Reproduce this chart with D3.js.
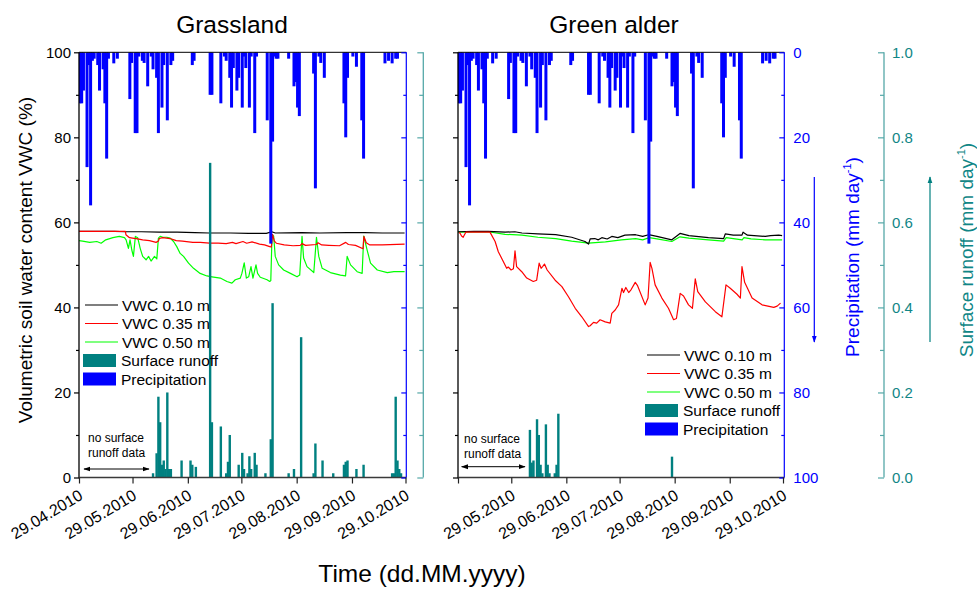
<!DOCTYPE html>
<html>
<head>
<meta charset="utf-8">
<script src="https://cdn.jsdelivr.net/npm/d3@7"></script>
<style>
  body { margin: 0; background: #fff; }
  svg { font-family: "Liberation Sans", Arial, sans-serif; display: block; }
</style>
</head>
<body>
<svg id="chart" width="977" height="589"></svg>
<script>
// ---- data -------------------------------------------------------------
// days are counted from 29.04.2010
const panelTitles = ["Grassland", "Green alder"];
const monthTickLabels = ["29.04.2010", "29.05.2010", "29.06.2010", "29.07.2010",
                         "29.08.2010", "29.09.2010", "29.10.2010"];
const vwcTicks = [0, 20, 40, 60, 80, 100];
const precipTicks = [0, 20, 40, 60, 80, 100];
const runoffTicks = [0, 0.2, 0.4, 0.6, 0.8, 1.0];

// daily precipitation (mm day-1): [day, value]
const precipitation = [[0,12],[1,12],[2,9],[4,27],[5,3],[6,36],[7,2],[8,1.5],[10,3],[11,9],
  [13,4],[14,12],[15,25],[16,1.5],[19,2.6],[21,1.5],[28,11],[29,2.5],[31,19],[32,19],[33,1],
  [35,2],[36,2.5],[38,8],[40,1],[41,4],[43,6],[44,19],[46,13],[47,3],[49,16],[51,3],[52,2],
  [63,3],[64,2],[73,10],[74,10],[79,12],[81,1],[82,2],[84,6],[85,13],[86,3.7],[88,9],[89,6],
  [91,13],[92,1],[93,3.7],[95,13],[96,1],[98,19],[99,1],[105,16],[107,45],[108,21],[109,1],
  [110,1.5],[111,1.5],[117,1.5],[120,8],[121,7],[122,13],[123,15],[131,5],[132,32],[134,1],
  [135,2.5],[137,6],[148,12],[149,20],[150,6],[153,1],[155,3.4],[158,16],[159,25],[171,2.6],
  [173,2],[175,2.6],[177,1.5],[178,1.5]];

// surface runoff (mm day-1): [day, value]
const grassRunoff = [[41,0.01],[43,0.057],[44,0.19],[45,0.13],[46,0.03],[47,0.04],[48,0.02],
  [49,0.2],[50,0.02],[51,0.02],[57,0.04],[62,0.04],[63,0.03],[65,0.025],[73,0.74],[74,0.13],
  [79,0.12],[82,0.01],[83,0.037],[84,0.1],[89,0.03],[91,0.058],[92,0.02],[94,0.01],[95,0.05],
  [96,0.02],[98,0.058],[99,0.03],[104,0.01],[107,0.09],[108,0.41],[117,0.01],[120,0.02],
  [124,0.33],[131,0.01],[132,0.08],[136,0.04],[142,0.01],[148,0.03],[149,0.037],[150,0.04],
  [155,0.02],[159,0.03],[175,0.01],[176,0.01],[177,0.19],[178,0.04],[179,0.02],[180,0.01]];
const alderRunoff = [[40,0.112],[41,0.035],[42,0.04],[44,0.137],[45,0.1],[46,0.03],[47,0.01],
  [49,0.125],[50,0.03],[51,0.01],[54,0.01],[55,0.03],[56,0.15],[120,0.049]];

// volumetric soil water content (%): [day, value]
const grassVwc10 = [[0,57.9],[10,57.9],[20,57.9],[26,57.8],[35,57.8],[45,57.7],[55,57.7],
  [65,57.6],[73,57.5],[85,57.5],[95,57.4],[105,57.4],[108,57.8],[110,57.5],[125,57.6],
  [135,57.5],[150,57.6],[160,57.6],[170,57.5],[182.5,57.5]];
const grassVwc35 = [[0,57.9],[26,57.9],[26.3,57.1],[28.3,56.4],[30,56.3],[32,56.2],[35.7,55.9],
  [39.5,55.7],[43.2,55.3],[44.5,55.6],[45,56.2],[47,56.4],[49,56.3],[51,56.2],[54.5,55.7],
  [58,55.6],[63.8,55.3],[68,55.3],[73.2,55.1],[78,55.1],[82.5,55.0],[86,55.3],[88,55.0],
  [91.9,55.5],[94,55.1],[97,55.4],[101.2,54.9],[104,54.7],[106.9,54.3],[107.8,54.2],
  [108.5,57.2],[109.5,55.6],[110.6,55.1],[115,54.7],[120,54.5],[124,54.6],[125,55.0],
  [127,54.6],[133,54.8],[134,55.2],[136,54.7],[140,54.6],[146,54.5],[149.5,55.3],[151,54.8],
  [155,54.6],[159.2,53.8],[159.7,56.7],[161,55.2],[163,54.7],[170,54.7],[182.5,54.9]];
const grassVwc50 = [[0,55.7],[2,55.6],[6,55.3],[10,55.5],[12.4,55.1],[15,55.9],[19,56.4],
  [22.6,56.7],[25.5,56.4],[26.4,55.9],[27.7,53.9],[28.6,55.9],[29.6,53.5],[30.5,52],
  [31.6,56.7],[32.9,56.4],[34.3,53.9],[35.7,52],[37.6,51.2],[39,52],[40.4,50.9],[42.3,52],
  [43.6,51.4],[44.5,56.3],[45.5,56.7],[47,56.5],[49.2,56.5],[51.1,56.3],[53,55.5],[54.8,54.3],
  [56.7,52.7],[58.6,52],[61.4,50.4],[64.2,49.2],[67.9,48],[71.7,47.4],[74.5,47.2],[79.2,46.9],
  [82.9,46.1],[85.7,45.7],[87.6,46.5],[90.4,46.9],[91.3,48],[92.6,50.5],[93.8,46.9],
  [95.1,47.2],[96.4,49.6],[97.5,46.9],[99.2,50],[100.1,48],[101.6,47.1],[105.4,46.5],
  [106.9,46.1],[107.5,46.3],[108.2,57.1],[109.1,56.8],[110,52],[111.9,50],[114.7,48.8],
  [118.5,48],[122.2,47.2],[123.7,47.6],[125,56.7],[125.9,51.6],[127.8,49.6],[131.6,48.2],
  [133.1,56.5],[134.4,52],[136.3,49.2],[140.9,48.2],[146.5,47.6],[149.4,47.4],[150.3,52],
  [152.2,50],[155.9,48.4],[158.7,48],[159.6,56.8],[161.5,53.5],[163.4,50.4],[167.2,48.8],
  [172.8,48.2],[176.5,48.4],[182.5,48.4]];

const alderVwc10 = [[0,57.8],[9,57.9],[17,57.9],[26.5,57.7],[32,57.8],[36,57.5],[45,57.3],
  [55,57.1],[64,56.5],[71.5,55.5],[73.5,54.9],[74.4,56.1],[77,56.2],[79,55.9],[81,56.4],
  [84,56.1],[86.6,56.7],[90,56.4],[94,57],[100,57.1],[104,56.7],[107.3,57.1],[112,56.7],
  [120.4,55.9],[125,57.4],[130,56.9],[141,56.4],[149.6,56.2],[150.5,57.3],[155,57],
  [159.9,57],[160.5,57.7],[163,57],[173,56.7],[176,56.9],[180.6,57],[182.5,56.9]];
const alderVwc35 = [[0.5,57.6],[1.1,57.5],[2,56.8],[2.9,56.5],[4.4,57.7],[18,57.7],[20.9,55.5],
  [22.7,53.1],[25.5,50.8],[27.4,49.2],[28.3,49.5],[29.9,48.8],[31.2,49.1],[32.1,53.3],[33,49.6],
  [35.9,48.4],[38.7,46.9],[42.4,46.1],[44.3,46.4],[45.7,50.4],[46.8,49.2],[47.6,49.6],
  [48.7,50.2],[50.2,48.8],[54.7,46.4],[58.5,44.9],[62.2,42.5],[66,39.8],[69.7,37.8],
  [73.5,35.5],[74.4,35.7],[76.3,36.5],[78.1,36.3],[80,37.1],[82.9,36.6],[85.7,36.3],
  [86.6,38.6],[88.5,39.4],[90.4,40.6],[92.3,44.5],[93.2,43.5],[94.5,44.7],[96.1,43.5],
  [97.5,44.2],[99.8,45.9],[101,45.2],[105.4,40.6],[107,42.2],[108.2,50.6],[109.2,49.2],
  [111,45.3],[114.8,42.2],[118.5,39.8],[121.4,37.1],[123,37.4],[125.1,43.3],[127,42.7],
  [129.8,40.6],[132,39.8],[133.6,46.7],[135,43.7],[139.3,41.3],[144.9,39],[148.6,37.8],
  [150.9,45.3],[153.3,44.5],[157.1,43.1],[159,42.2],[159.9,49.6],[161.4,45.9],[165.6,42.2],
  [171.2,40.6],[177.8,40],[179.7,40.3],[181.6,41]];
const alderVwc50 = [[0,57.7],[17,57.8],[26.5,57.2],[36,57],[45,56.5],[55,56.2],[64,55.6],
  [73.5,55.1],[83,55.4],[92,55.9],[100,56.2],[104,55.9],[107.7,56.4],[112,56.1],[120.4,55.5],
  [125,56.6],[130,56.3],[141,55.9],[149.6,55.6],[151,56.4],[160,55.9],[161,56.4],[165,56.1],
  [173,55.9],[182.5,55.9]];

const legendLabels = ["VWC 0.10 m", "VWC 0.35 m", "VWC 0.50 m", "Surface runoff", "Precipitation"];

// ---- drawing ------------------------------------------------------------
const DAY = 86400000;
const t0 = Date.UTC(2010, 3, 29);
const dayDate = d => new Date(t0 + d * DAY);
const tickDates = monthTickLabels.map(s => {
  const [dd, mm, yy] = s.split(".").map(Number);
  return new Date(Date.UTC(yy, mm - 1, dd));
});

const C = {
  black: "#000", red: "#ff0000", green: "#00ff00", blue: "#0000ff",
  teal: "#008080", tealAxis: "#55a8a8", tealText: "#108686"
};
const yTop = 52.3, yBot = 477.5;

const svg = d3.select("#chart");
const defs = svg.append("defs");

function marker(id, color, orient) {
  defs.append("marker").attr("id", id).attr("viewBox", "0 0 10 10")
    .attr("refX", 9).attr("refY", 5).attr("markerWidth", 7).attr("markerHeight", 7)
    .attr("markerUnits", "userSpaceOnUse").attr("orient", orient)
    .append("path").attr("d", "M0,1.5 L10,5 L0,8.5 Z").attr("fill", color);
}
marker("headBlack", "#000", "auto-start-reverse");
marker("headBlue", C.blue, "auto");
marker("headTeal", C.teal, "auto");

const yV = d3.scaleLinear().domain([0, 100]).range([yBot, yTop]);
const yP = d3.scaleLinear().domain([0, 100]).range([yTop, yBot]);
const yR = d3.scaleLinear().domain([0, 1]).range([yBot, yTop]);

const panels = [
  { title: panelTitles[0], x0: 79, x1: 405.5, xBlue: 406.3, xTeal: 423.3, leftLabels: true,
    rightLabels: false, runoff: grassRunoff, v10: grassVwc10, v35: grassVwc35, v50: grassVwc50,
    legendX: 83, legendY: 305, noteX: 88, noteY: 442, arrowX: [84, 149], arrowY: 469,
    tickLabelFrom: 0, titleX: 232 },
  { title: panelTitles[1], x0: 458, x1: 783, xBlue: 784.3, xTeal: 884, leftLabels: false,
    rightLabels: true, runoff: alderRunoff, v10: alderVwc10, v35: alderVwc35, v50: alderVwc50,
    legendX: 645, legendY: 355, noteX: 464, noteY: 443, arrowX: [461.7, 525], arrowY: 466.7,
    tickLabelFrom: 1, titleX: 614 }
];

panels.forEach((p, i) => {
  const x = d3.scaleUtc().domain([tickDates[0], tickDates[tickDates.length - 1]])
    .range([p.x0, p.x1]);
  const g = svg.append("g");
  const clipId = "clip" + i;
  defs.append("clipPath").attr("id", clipId).append("rect")
    .attr("x", p.x0).attr("y", yTop).attr("width", p.xBlue - p.x0).attr("height", yBot - yTop);
  const plot = g.append("g").attr("clip-path", `url(#${clipId})`);

  // soil water content lines
  const line = d3.line().x(d => x(dayDate(d[0]))).y(d => yV(d[1]));
  [[p.v50, C.green], [p.v10, C.black], [p.v35, C.red]].forEach(([data, col]) => {
    plot.append("path").datum(data).attr("d", line).attr("fill", "none")
      .attr("stroke", col).attr("stroke-width", 1.2).attr("stroke-linejoin", "round");
  });

  // surface runoff bars (up from the bottom)
  const rw = 2.4;
  plot.append("g").selectAll("rect").data(p.runoff).join("rect")
    .attr("x", d => x(dayDate(d[0] + 0.5)) - rw / 2)
    .attr("width", rw)
    .attr("y", d => yR(d[1]))
    .attr("height", d => yBot - yR(d[1]))
    .attr("fill", C.teal);

  // precipitation bars (down from the top)
  const pw = 3.0;
  plot.append("g").selectAll("rect").data(precipitation).join("rect")
    .attr("x", d => x(dayDate(d[0] + 0.5)) - pw / 2)
    .attr("width", pw)
    .attr("y", yTop)
    .attr("height", d => yP(d[1]) - yTop)
    .attr("fill", C.blue);

  // frame lines
  g.append("line").attr("x1", p.x0).attr("x2", p.xBlue).attr("y1", yTop).attr("y2", yTop)
    .attr("stroke", "#000").attr("stroke-width", 1);
  g.append("line").attr("x1", p.xBlue).attr("x2", p.xBlue).attr("y1", yTop).attr("y2", yBot)
    .attr("stroke", C.blue).attr("stroke-width", 1.2);
  g.append("line").attr("x1", p.x0).attr("x2", p.x0).attr("y1", yTop).attr("y2", yBot + 0.7)
    .attr("stroke", "#000").attr("stroke-width", 1.3);
  g.append("line").attr("x1", p.x0).attr("x2", p.xBlue).attr("y1", yBot).attr("y2", yBot)
    .attr("stroke", "#3a3a3a").attr("stroke-width", 1.6);
  g.append("line").attr("x1", p.xTeal).attr("x2", p.xTeal).attr("y1", yTop).attr("y2", yBot)
    .attr("stroke", C.tealAxis).attr("stroke-width", 1.3);

  // left VWC axis
  const leftAx = g.append("g").attr("transform", `translate(${p.x0},0)`)
    .call(d3.axisLeft(yV).tickValues(vwcTicks).tickSize(5).tickPadding(3)
      .tickFormat(p.leftLabels ? d3.format("d") : () => ""));
  const leftMinor = g.append("g").attr("transform", `translate(${p.x0},0)`)
    .call(d3.axisLeft(yV).tickValues([10, 30, 50, 70, 90]).tickSize(3).tickFormat(() => ""));

  // precipitation axis (ticks inside)
  const blueAx = g.append("g").attr("transform", `translate(${p.xBlue},0)`)
    .call(d3.axisLeft(yP).tickValues(precipTicks).tickSize(5).tickFormat(() => ""));
  const blueMinor = g.append("g").attr("transform", `translate(${p.xBlue},0)`)
    .call(d3.axisLeft(yP).tickValues([10, 30, 50, 70, 90]).tickSize(3).tickFormat(() => ""));
  if (p.rightLabels) {
    g.append("g").attr("transform", `translate(${p.xBlue},0)`)
      .call(d3.axisRight(yP).tickValues(precipTicks).tickSize(0).tickPadding(9)
        .tickFormat(d3.format("d")))
      .call(a => a.selectAll("text").attr("fill", C.blue));
  }

  // runoff axis
  const tealAx = g.append("g").attr("transform", `translate(${p.xTeal},0)`)
    .call(d3.axisLeft(yR).tickValues(runoffTicks).tickSize(6).tickFormat(() => ""));
  const tealMinor = g.append("g").attr("transform", `translate(${p.xTeal},0)`)
    .call(d3.axisLeft(yR).tickValues([0.1, 0.3, 0.5, 0.7, 0.9]).tickSize(4).tickFormat(() => ""));
  if (p.rightLabels) {
    g.append("g").attr("transform", `translate(${p.xTeal},0)`)
      .call(d3.axisRight(yR).tickValues(runoffTicks).tickSize(0).tickPadding(8)
        .tickFormat(d3.format(".1f")))
      .call(a => a.selectAll("text").attr("fill", C.tealText));
  }

  [leftAx, leftMinor].forEach(a => a.selectAll("line").attr("stroke", "#000").attr("stroke-width", 1.2));
  [blueAx, blueMinor].forEach(a => a.selectAll("line").attr("stroke", C.blue).attr("stroke-width", 1.2));
  [tealAx, tealMinor].forEach(a => a.selectAll("line").attr("stroke", C.tealAxis).attr("stroke-width", 1.2));

  // bottom time axis
  const bottom = g.append("g").attr("transform", `translate(0,${yBot})`)
    .call(d3.axisBottom(x).tickValues(tickDates).tickSize(6).tickFormat(() => ""));
  bottom.selectAll("line").attr("stroke", "#222").attr("stroke-width", 1.2);
  g.selectAll(".domain").remove();

  g.append("g").selectAll("text").data(tickDates.slice(p.tickLabelFrom)).join("text")
    .attr("transform", d => `translate(${x(d) + 5},${yBot + 21}) rotate(-31)`)
    .attr("text-anchor", "end")
    .attr("font-size", 16)
    .attr("fill", "#000")
    .text(d => monthTickLabels[tickDates.indexOf(d)]);

  g.selectAll(".tick text").attr("font-size", 15).attr("font-family", "Liberation Sans, Arial, sans-serif");

  // panel title
  g.append("text").attr("x", p.titleX).attr("y", 33).attr("text-anchor", "middle")
    .attr("font-size", 24.5).text(p.title);

  // legend
  const lg = g.append("g").attr("font-size", 15.5);
  const lineCols = [C.black, C.red, C.green];
  const rowH = 18.5;
  lineCols.forEach((col, k) => {
    const yy = p.legendY + k * rowH;
    lg.append("line").attr("x1", p.legendX + 2).attr("x2", p.legendX + 35)
      .attr("y1", yy).attr("y2", yy).attr("stroke", col).attr("stroke-width", 1.2);
    lg.append("text").attr("x", p.legendX + 39).attr("y", yy + 5.5).text(legendLabels[k]);
  });
  [C.teal, C.blue].forEach((col, k) => {
    const yy = p.legendY + (3 + k) * rowH;
    lg.append("rect").attr("x", p.legendX).attr("y", yy - 6.5).attr("width", 33)
      .attr("height", 13).attr("fill", col);
    lg.append("text").attr("x", p.legendX + 38).attr("y", yy + 5.5).text(legendLabels[3 + k]);
  });

  // note on missing runoff record
  const note = g.append("g").attr("font-size", 12);
  note.append("text").attr("x", p.noteX).attr("y", p.noteY).text("no surface");
  note.append("text").attr("x", p.noteX).attr("y", p.noteY + 14.5).text("runoff data");
  note.append("line").attr("x1", p.arrowX[0]).attr("x2", p.arrowX[1])
    .attr("y1", p.arrowY).attr("y2", p.arrowY).attr("stroke", "#000").attr("stroke-width", 1)
    .attr("marker-start", "url(#headBlack)").attr("marker-end", "url(#headBlack)");
});

// axis titles
svg.append("text")
  .attr("transform", "translate(32,260) rotate(-90)")
  .attr("text-anchor", "middle").attr("font-size", 19)
  .text("Volumetric soil water content VWC (%)");

function unitTitle(tx, ty, label, col) {
  const t = svg.append("text")
    .attr("transform", `translate(${tx},${ty}) rotate(-90)`)
    .attr("text-anchor", "middle").attr("font-size", 19).attr("fill", col);
  t.append("tspan").text(label + " (mm day");
  t.append("tspan").attr("font-size", 11).attr("dy", -8).text("-1");
  t.append("tspan").attr("dy", 8).text(")");
}
unitTitle(859, 257, "Precipitation", C.blue);
unitTitle(973, 250, "Surface runoff", C.tealText);

svg.append("line").attr("x1", 814.3).attr("x2", 814.3).attr("y1", 177).attr("y2", 342)
  .attr("stroke", C.blue).attr("stroke-width", 1.2).attr("marker-end", "url(#headBlue)");
svg.append("line").attr("x1", 930).attr("x2", 930).attr("y1", 342).attr("y2", 177)
  .attr("stroke", C.teal).attr("stroke-width", 1.2).attr("marker-end", "url(#headTeal)");

svg.append("text").attr("x", 422).attr("y", 582).attr("text-anchor", "middle")
  .attr("font-size", 24.5).text("Time (dd.MM.yyyy)");
</script>
</body>
</html>
